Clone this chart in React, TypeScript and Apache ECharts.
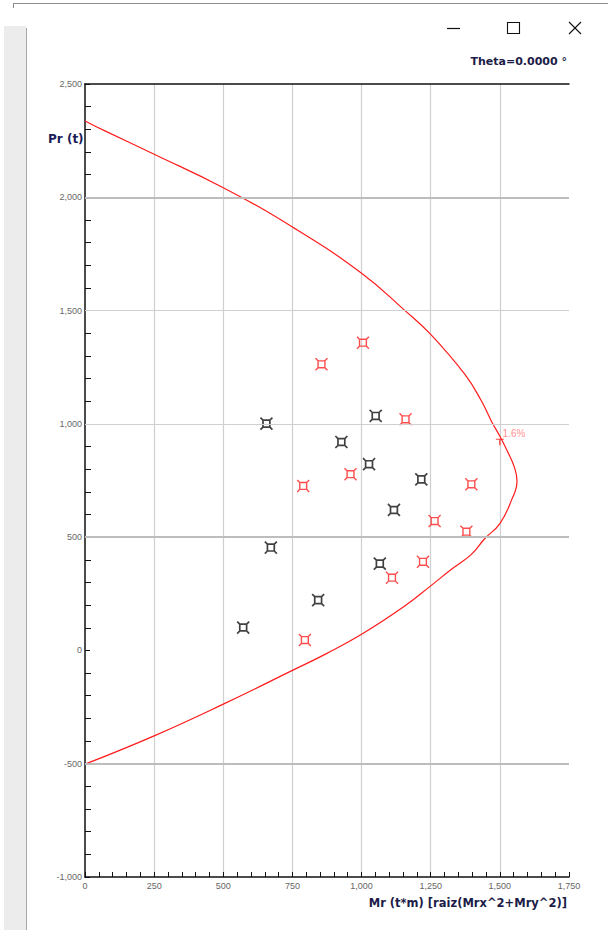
import React, { useEffect, useRef } from "react";
import * as echarts from "echarts";

// Interaction curve (Mr, Pr)
const curveMr = [0, 72, 250, 500, 750, 1000, 1156, 1250, 1373, 1433, 1469, 1500, 1529, 1553, 1562, 1541, 1500, 1445, 1397, 1325, 1250, 1156, 1000, 873, 750, 500, 250, 0];
const curvePr = [2337, 2293, 2190, 2042, 1869, 1665, 1501, 1395, 1219, 1102, 1013, 945, 875, 807, 748, 660, 560, 493, 424, 358, 285, 196, 71, -14, -88, -237, -377, -502];

// Red load points
const redMr = [1005, 855, 1159, 960, 789, 1397, 1264, 1379, 1222, 1110, 795];
const redPr = [1358, 1263, 1020, 778, 726, 733, 571, 524, 391, 321, 46];

// Black load points
const blackMr = [656, 1051, 927, 1027, 1216, 1117, 672, 1066, 843, 572];
const blackPr = [1001, 1035, 920, 822, 755, 620, 454, 383, 222, 101];

// Ratio marker
const ratioPoint = [1500, 932];
const ratioLabel = "1.6%";

// Axis settings
const xMin = 0, xMax = 1750, xStep = 250;
const yMin = -1000, yMax = 2500, yStep = 500;
const gridThick = [2000, 500, -500];
const gridThin = [1500, 1000];

const xTitle = "Mr (t*m) [raiz(Mrx^2+Mry^2)]";
const yTitle = "Pr (t)";
const thetaText = "Theta=0.0000 °";

const markerPath =
  "path://M3 3L11 3L11 11L3 11Z M0 0L3 3 M14 0L11 3 M14 14L11 11 M0 14L3 11";

export default function App() {
  const ref = useRef<HTMLDivElement>(null);
  useEffect(() => {
    if (!ref.current) return;
    const chart = echarts.init(ref.current, null, { renderer: "svg" });
    const fmt = (v: number) => v.toLocaleString("en-US");
    const font = "'Liberation Sans', Arial, sans-serif";
    const titleFont = "'DejaVu Sans', Verdana, sans-serif";
    const markLines = [
      ...gridThick.map((v) => ({ yAxis: v, lineStyle: { color: "#bdbdbd", width: 2, type: "solid" } })),
      ...gridThin.map((v) => ({ yAxis: v, lineStyle: { color: "#cfcfcf", width: 1, type: "solid" } })),
    ];
    chart.setOption({
      animation: false,
      backgroundColor: "#ffffff",
      grid: { left: 85, top: 84, width: 484, height: 793, containLabel: false },
      xAxis: [
        {
          type: "value",
          min: xMin,
          max: xMax,
          interval: xStep,
          axisLine: { show: true, onZero: false, lineStyle: { color: "#111", width: 1.5 } },
          axisTick: { show: true, inside: true, length: 5, lineStyle: { color: "#111" } },
          minorTick: { show: true, splitNumber: 5, length: 5, lineStyle: { color: "#111" } },
          axisLabel: { fontSize: 9, color: "#666", fontFamily: font, margin: 4, formatter: fmt },
          splitLine: {
            show: true,
            lineStyle: { color: ["transparent", "#cfcfcf", "#cfcfcf", "#cfcfcf", "#cfcfcf", "#cfcfcf", "#cfcfcf", "transparent"], width: 1.2 },
          },
        },
        {
          type: "value",
          position: "top",
          min: xMin,
          max: xMax,
          interval: xStep,
          axisLine: { show: true, onZero: false, lineStyle: { color: "#111", width: 1.5 } },
          axisTick: { show: false },
          axisLabel: { show: false },
          splitLine: { show: false },
        },
      ],
      yAxis: {
        type: "value",
        min: yMin,
        max: yMax,
        interval: yStep,
        axisLine: { show: true, onZero: false, lineStyle: { color: "#111", width: 1.5 } },
        axisTick: { show: true, inside: true, length: 5, lineStyle: { color: "#111" } },
        minorTick: { show: true, splitNumber: 5, length: 6, lineStyle: { color: "#111" } },
        axisLabel: { fontSize: 9, color: "#666", fontFamily: font, margin: 3, formatter: fmt },
        splitLine: { show: false },
      },
      series: [
        {
          type: "line",
          data: [],
          silent: true,
          z: 1,
          markLine: { silent: true, symbol: "none", label: { show: false }, data: markLines },
        },
        {
          type: "line",
          data: curveMr.map((m, i) => [m, curvePr[i]]),
          showSymbol: false,
          smooth: 0.45,
          lineStyle: { color: "#ff1a1a", width: 1.2 },
          z: 3,
        },
        {
          type: "scatter",
          data: redMr.map((m, i) => [m, redPr[i]]),
          symbol: markerPath,
          symbolSize: 12,
          itemStyle: { color: "transparent", borderColor: "#ff2020", borderWidth: 1.4 },
          z: 4,
        },
        {
          type: "scatter",
          data: blackMr.map((m, i) => [m, blackPr[i]]),
          symbol: markerPath,
          symbolSize: 12,
          itemStyle: { color: "transparent", borderColor: "#111", borderWidth: 1.7 },
          z: 4,
        },
        {
          type: "scatter",
          data: [ratioPoint],
          symbol: "path://M0 0L10 0 M5 0L5 7",
          symbolSize: [8, 6],
          symbolOffset: [0, 3],
          itemStyle: { color: "transparent", borderColor: "#ff1a1a", borderWidth: 1.2 },
          label: {
            show: true,
            formatter: ratioLabel,
            position: "right",
            distance: 0,
            offset: [-2, -9],
            color: "#ff7070",
            fontSize: 10,
            fontFamily: font,
          },
          z: 5,
        },
      ],
      graphic: [
        // left blurred strip of the window background
        { type: "rect", shape: { x: 4, y: 26, width: 22, height: 904 }, style: { fill: "#ececec" }, silent: true },
        { type: "line", shape: { x1: 26.5, y1: 28, x2: 26.5, y2: 930 }, style: { stroke: "#a8a8a8", lineWidth: 1 }, silent: true },
        { type: "line", shape: { x1: 13, y1: 3.5, x2: 608, y2: 3.5 }, style: { stroke: "#8c8c8c", lineWidth: 1 }, silent: true },
        { type: "line", shape: { x1: 13.5, y1: 3.5, x2: 13.5, y2: 8 }, style: { stroke: "#8c8c8c", lineWidth: 1 }, silent: true },
        // window controls
        { type: "line", shape: { x1: 447, y1: 28.5, x2: 460, y2: 28.5 }, style: { stroke: "#111", lineWidth: 1.2 }, silent: true },
        { type: "rect", shape: { x: 507.5, y: 22.5, width: 12, height: 11 }, style: { fill: "none", stroke: "#111", lineWidth: 1.1 }, silent: true },
        { type: "line", shape: { x1: 569, y1: 22, x2: 581, y2: 34 }, style: { stroke: "#111", lineWidth: 1.1 }, silent: true },
        { type: "line", shape: { x1: 581, y1: 22, x2: 569, y2: 34 }, style: { stroke: "#111", lineWidth: 1.1 }, silent: true },
        // texts
        {
          type: "text",
          x: 567,
          y: 61,
          style: { text: thetaText, font: `bold 11px ${titleFont}`, fill: "#1c1c48", align: "right", verticalAlign: "middle" },
          silent: true,
        },
        {
          type: "text",
          x: 48,
          y: 139,
          style: { text: yTitle, font: `bold 12px ${titleFont}`, fill: "#1c1c5a", align: "left", verticalAlign: "middle" },
          silent: true,
        },
        {
          type: "text",
          x: 567,
          y: 903,
          style: { text: xTitle, font: `bold 11.5px ${titleFont}`, fill: "#1c1c48", align: "right", verticalAlign: "middle" },
          silent: true,
        },
      ],
    });
    return () => chart.dispose();
  }, []);
  return (
    <div
      ref={ref}
      style={{ position: "fixed", left: 0, top: 0, width: 608, height: 930, background: "#fff" }}
    />
  );
}
